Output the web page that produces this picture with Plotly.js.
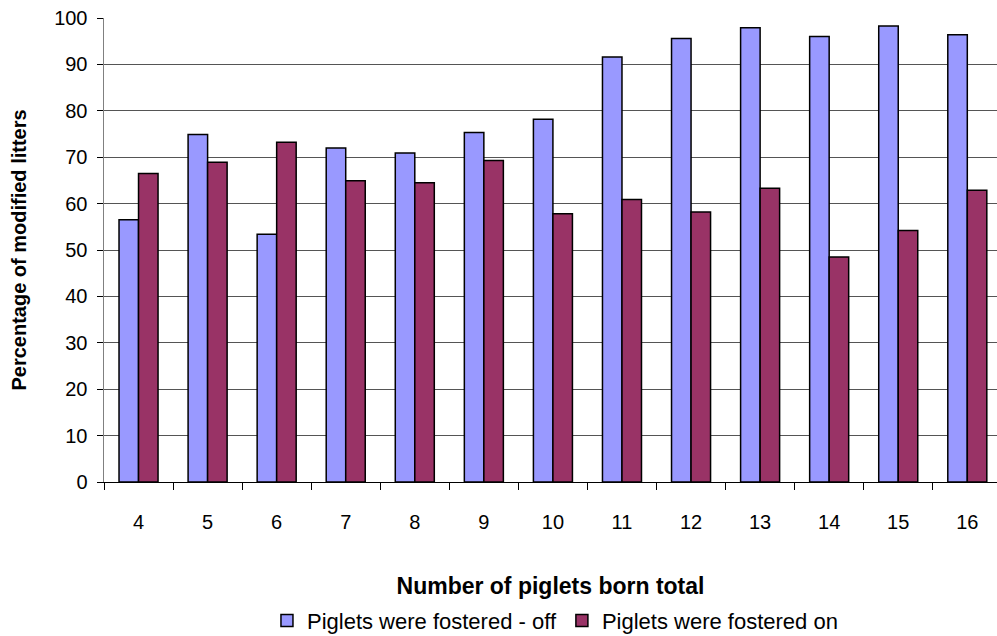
<!DOCTYPE html>
<html>
<head>
<meta charset="utf-8">
<script src="https://cdn.plot.ly/plotly-3.0.1.min.js"></script>
<style>
  html, body { margin: 0; padding: 0; background: #fff; }
  #chart { width: 997px; height: 636px; }
</style>
</head>
<body>
<div id="chart"></div>
<script>
// Litter size categories (number of piglets born total)
const categories = ['4', '5', '6', '7', '8', '9', '10', '11', '12', '13', '14', '15', '16'];

// Percentage of modified litters per category
const fosteredOff = [56.5, 74.9, 53.4, 72.0, 70.9, 75.3, 78.2, 91.6, 95.6, 97.9, 96.0, 98.3, 96.4];
const fosteredOn  = [66.5, 68.9, 73.2, 64.9, 64.5, 69.3, 57.8, 60.9, 58.2, 63.3, 48.5, 54.2, 62.9];

const seriesNames = ['Piglets were fostered - off', 'Piglets were fostered on'];

const font = 'Liberation Sans, Arial, sans-serif';
const outline = { color: '#000000', width: 1.5 };

const traces = [
  {
    type: 'bar', name: seriesNames[0], x: categories, y: fosteredOff,
    marker: { color: '#9999FF', line: outline }, hoverinfo: 'x+y'
  },
  {
    type: 'bar', name: seriesNames[1], x: categories, y: fosteredOn,
    marker: { color: '#993366', line: outline }, hoverinfo: 'x+y'
  }
];

const layout = {
  width: 997, height: 636,
  margin: { l: 104, r: 0, t: 18, b: 154 },
  paper_bgcolor: '#ffffff', plot_bgcolor: '#ffffff',
  font: { family: font, size: 20, color: '#000' },
  barmode: 'group',
  bargap: 0.435,
  bargroupgap: 0,
  showlegend: true,
  legend: {
    orientation: 'h', x: 0.505, xanchor: 'center', xref: 'paper',
    y: 0.024, yanchor: 'middle', yref: 'container',
    font: { family: font, size: 22, color: '#000' },
    itemwidth: 30, tracegroupgap: 0, traceorder: 'normal'
  },
  xaxis: {
    type: 'category',
    range: [-0.5, 12.43],
    automargin: false,
    showline: true, linecolor: '#000', linewidth: 1,
    ticks: 'outside', tickson: 'boundaries', ticklen: 7, tickcolor: '#000',
    ticklabelstandoff: 22,
    showgrid: false, zeroline: false,
    tickfont: { family: font, size: 20, color: '#000' },
    title: {
      text: 'Number of piglets born total',
      font: { family: font, size: 23, color: '#000', weight: 'bold' },
      standoff: 45
    }
  },
  yaxis: {
    range: [0, 100],
    dtick: 10, tick0: 0,
    automargin: false,
    showline: true, linecolor: '#808080', linewidth: 1.5,
    ticks: 'outside', ticklen: 6, tickcolor: '#000',
    ticklabelstandoff: 5,
    showgrid: true, gridcolor: '#555555', gridwidth: 1,
    zeroline: false,
    tickfont: { family: font, size: 20, color: '#000' },
    title: {
      text: 'Percentage of modified litters',
      font: { family: font, size: 20, color: '#000', weight: 'bold' },
      standoff: 22
    }
  }
};

Plotly.newPlot('chart', traces, layout, { displayModeBar: false, staticPlot: true });
</script>
</body>
</html>
